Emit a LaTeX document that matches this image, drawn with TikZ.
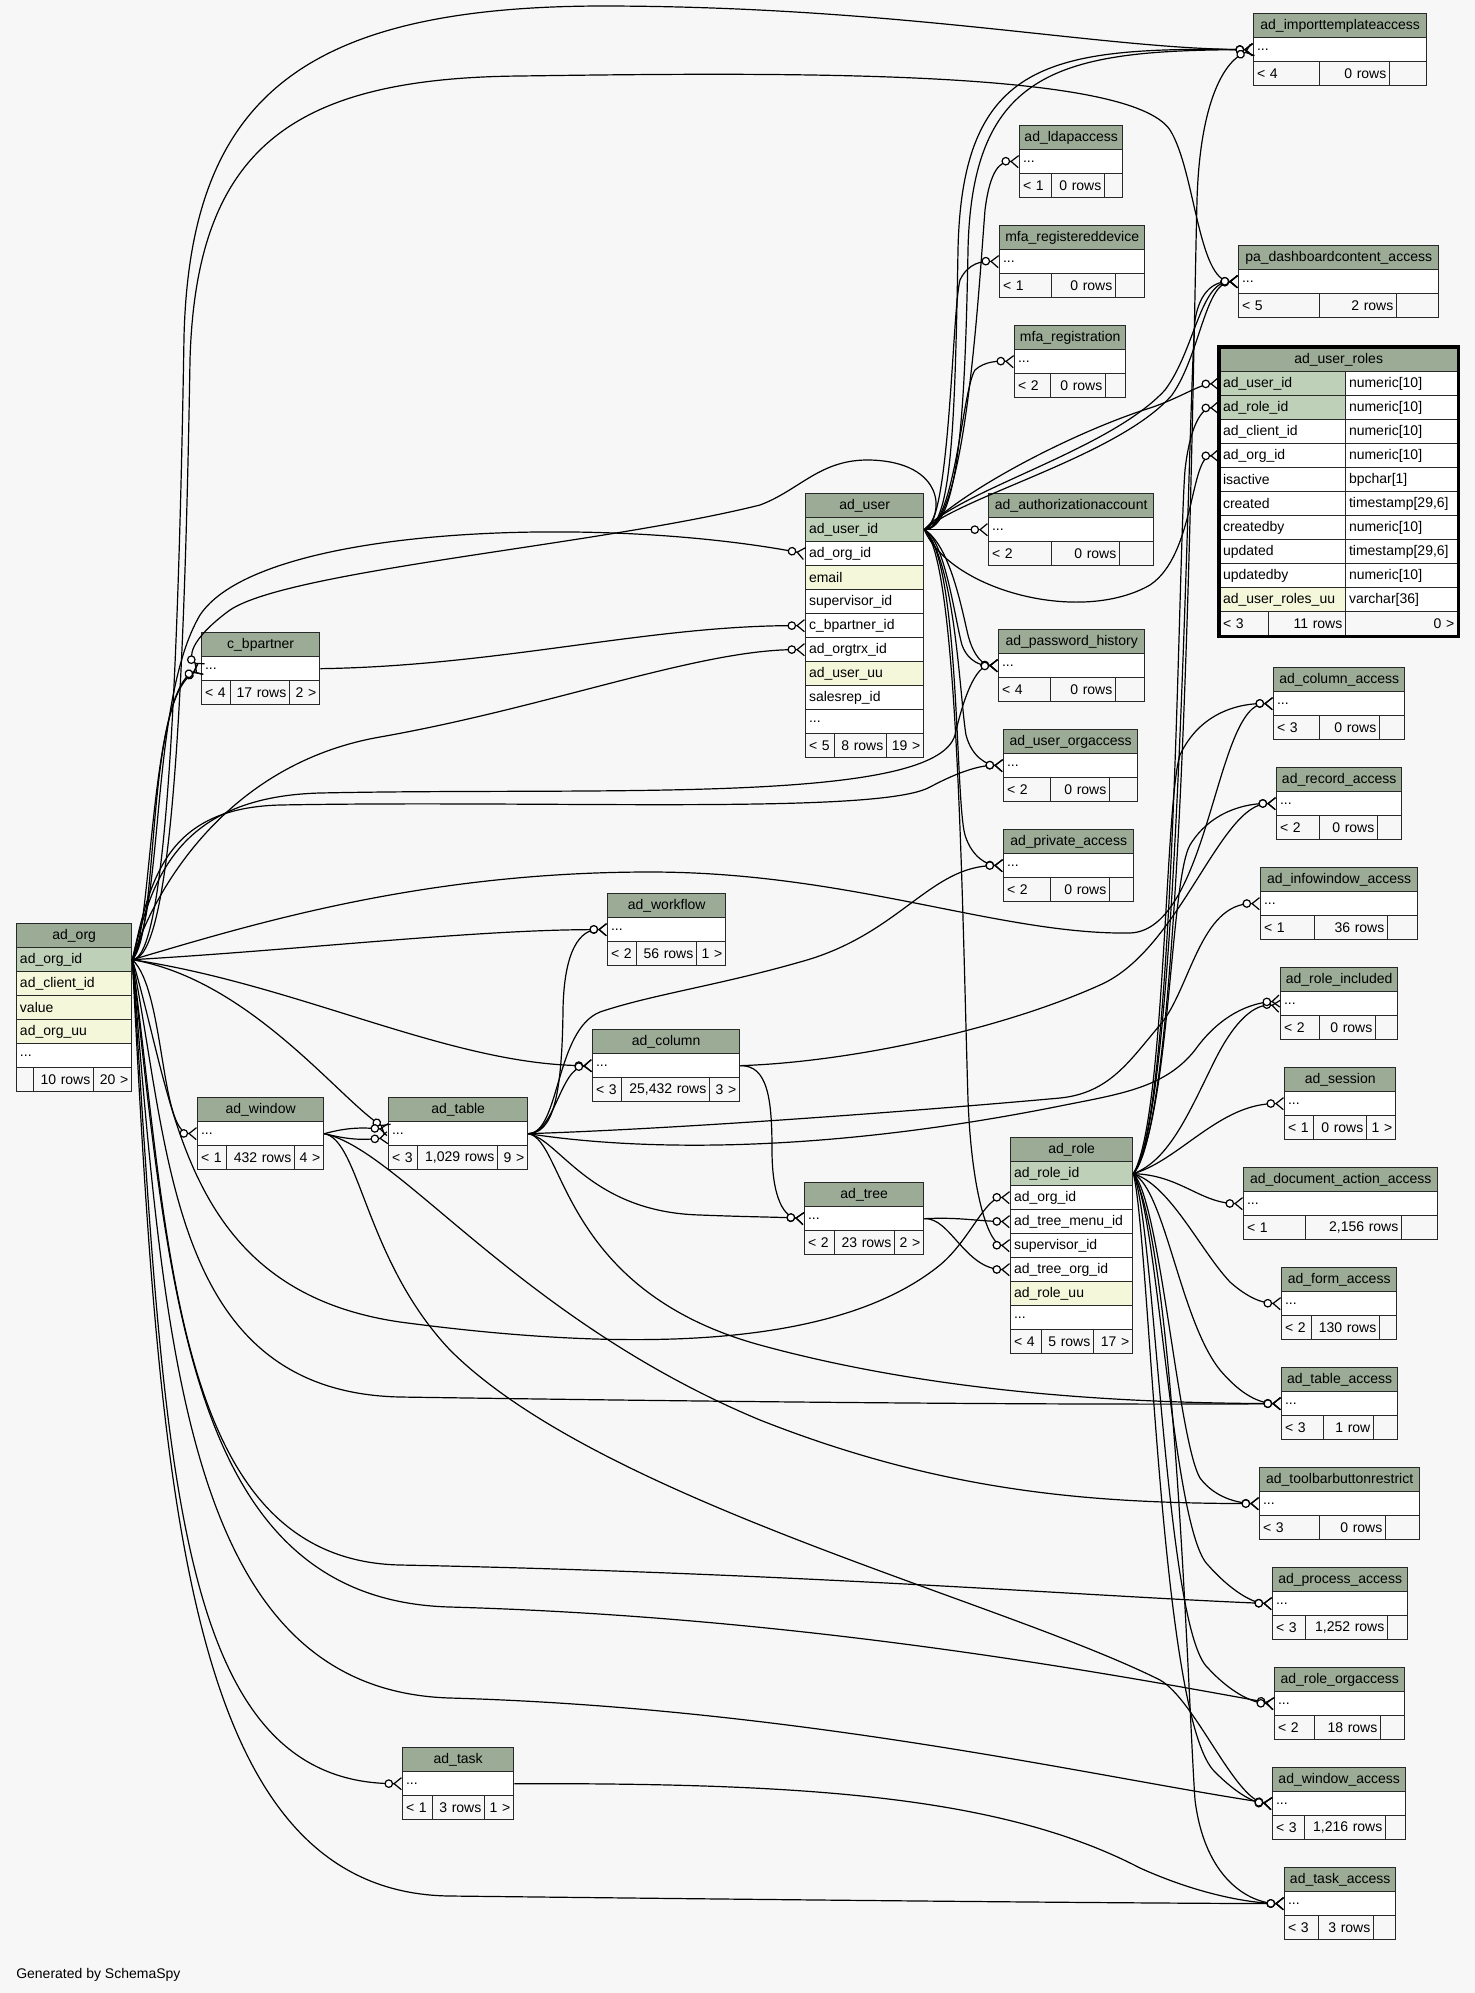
\documentclass[tikz,border=0pt]{standalone}
\usepackage{fontspec}
\setmainfont{Liberation Sans}
\usepackage{tikz}
\usetikzlibrary{arrows.meta}
\definecolor{ink}{RGB}{40,40,40}
\definecolor{canvas}{RGB}{247,247,247}
\definecolor{head}{RGB}{155,171,150}
\definecolor{pk}{RGB}{190,209,184}
\definecolor{idx}{RGB}{244,247,218}
\newcommand{\tabfont}{\fontsize{10.5}{12}\selectfont}
\newcommand{\rowdots}{...}
\tikzset{
  tabhd/.style={draw=ink,line width=1pt,fill=head,anchor=north west,
    minimum height=18pt,inner sep=0pt,font=\tabfont},
  tabcell/.style={draw=ink,line width=1pt,anchor=north west,
    minimum height=18pt,inner xsep=2.5pt,inner ysep=0pt,font=\tabfont},
  fk/.style={line width=0.9pt,
    -{Circle[fill=white,length=6.5pt] Straight Barb[reversed,length=5.5pt,width=9pt]}},
}
% one cell: name, x left, x right, y top, fill, align, text
\newcommand{\cell}[7]{%
  \pgfmathsetmacro\tabw{(#3-#2)*0.75}%
  \pgfmathsetmacro\tabt{(#3-#2)*0.75-5}%
  \node[tabcell,fill=#5,align=#6,minimum width=\tabw pt,text width=\tabt pt]
    (#1) at (#2,#4) {#7};}
% header and rows: name, x left, x right, y top, title, {key/fill/text,...}
\newcommand{\tbl}[6]{%
  \pgfmathsetmacro\tabw{(#3-#2)*0.75}%
  \node[tabhd,minimum width=\tabw pt] (#1) at (#2,#4) {#5};
  \foreach \rk/\rf/\rt [count=\i] in {#6}
    {\cell{#1-\rk}{#2}{#3}{#4+24*\i}{\rf}{left}{\rt}}}
% footer: name, x left, divider, divider, x right, y top, texts
\newcommand{\tfoot}[9]{%
  \cell{#1-f1}{#2}{#3}{#6}{canvas}{left}{#7}%
  \cell{#1-f2}{#3}{#4}{#6}{canvas}{right}{#8}%
  \cell{#1-f3}{#4}{#5}{#6}{canvas}{right}{#9}}

\begin{document}
\begin{tikzpicture}[x=0.75pt,y=-0.75pt]
  \useasboundingbox (0,0) rectangle (1475,1993);
  \fill[canvas] (0,0) rectangle (1475,1993);

  \tbl{org}{16}{131}{923}{ad\_org}{id/pk/ad\_org\_id, client/idx/ad\_client\_id,
    value/idx/value, uu/idx/ad\_org\_uu, more/white/\rowdots}
  \tfoot{org}{16}{33}{93}{131}{1067}{}{10 rows}{20 >}
  \tbl{cbp}{201}{319}{632}{c\_bpartner}{more/white/\rowdots}
  \tfoot{cbp}{201}{230}{289}{319}{680}{< 4}{17 rows}{2 >}
  \tbl{user}{805}{923}{493}{ad\_user}{id/pk/ad\_user\_id, org/white/ad\_org\_id,
    email/idx/email, sup/white/supervisor\_id, bp/white/c\_bpartner\_id,
    trx/white/ad\_orgtrx\_id, uu/idx/ad\_user\_uu, rep/white/salesrep\_id,
    more/white/\rowdots}
  \tfoot{user}{805}{834}{886}{923}{733}{< 5}{8 rows}{19 >}
  \tbl{wf}{607}{725}{893}{ad\_workflow}{more/white/\rowdots}
  \tfoot{wf}{607}{636}{696}{725}{941}{< 2}{56 rows}{1 >}
  \tbl{col}{592}{739}{1029}{ad\_column}{more/white/\rowdots}
  \tfoot{col}{592}{621}{709}{739}{1077}{< 3}{25,432 rows}{3 >}
  \tbl{win}{197}{323}{1097}{ad\_window}{more/white/\rowdots}
  \tfoot{win}{197}{226}{294}{323}{1145}{< 1}{432 rows}{4 >}
  \tbl{tab}{388}{527}{1097}{ad\_table}{more/white/\rowdots}
  \tfoot{tab}{388}{417}{497}{527}{1145}{< 3}{1,029 rows}{9 >}
  \tbl{tree}{804}{923}{1182}{ad\_tree}{more/white/\rowdots}
  \tfoot{tree}{804}{834}{894}{923}{1230}{< 2}{23 rows}{2 >}
  \tbl{role}{1010}{1132}{1137}{ad\_role}{id/pk/ad\_role\_id, org/white/ad\_org\_id,
    menu/white/ad\_tree\_menu\_id, sup/white/supervisor\_id,
    torg/white/ad\_tree\_org\_id, uu/idx/ad\_role\_uu, more/white/\rowdots}
  \tfoot{role}{1010}{1041}{1093}{1132}{1329}{< 4}{5 rows}{17 >}
  \tbl{task}{402}{513}{1747}{ad\_task}{more/white/\rowdots}
  \tfoot{task}{402}{432}{484}{513}{1795}{< 1}{3 rows}{1 >}

  \tbl{ita}{1253}{1426}{13}{ad\_importtemplateaccess}{more/white/\rowdots}
  \tfoot{ita}{1253}{1319}{1389}{1426}{61}{< 4}{0 rows}{}
  \tbl{ldap}{1019}{1122}{125}{ad\_ldapaccess}{more/white/\rowdots}
  \tfoot{ldap}{1019}{1051}{1104}{1122}{173}{< 1}{0 rows}{}
  \tbl{mfad}{999}{1144}{225}{mfa\_registereddevice}{more/white/\rowdots}
  \tfoot{mfad}{999}{1051}{1115}{1144}{273}{< 1}{0 rows}{}
  \tbl{mfar}{1014}{1125}{325}{mfa\_registration}{more/white/\rowdots}
  \tfoot{mfar}{1014}{1050}{1105}{1125}{373}{< 2}{0 rows}{}
  \tbl{pad}{1238}{1438}{245}{pa\_dashboardcontent\_access}{more/white/\rowdots}
  \tfoot{pad}{1238}{1319}{1396}{1438}{293}{< 5}{2 rows}{}
  \tbl{auth}{988}{1153}{493}{ad\_authorizationaccount}{more/white/\rowdots}
  \tfoot{auth}{988}{1051}{1119}{1153}{541}{< 2}{0 rows}{}
  \tbl{pwh}{998}{1144}{629}{ad\_password\_history}{more/white/\rowdots}
  \tfoot{pwh}{998}{1050}{1115}{1144}{677}{< 4}{0 rows}{}
  \tbl{uoa}{1003}{1137}{729}{ad\_user\_orgaccess}{more/white/\rowdots}
  \tfoot{uoa}{1003}{1050}{1109}{1137}{777}{< 2}{0 rows}{}
  \tbl{pva}{1003}{1133}{829}{ad\_private\_access}{more/white/\rowdots}
  \tfoot{pva}{1003}{1050}{1109}{1133}{877}{< 2}{0 rows}{}

  \node[tabhd,minimum width=178.5pt] (ur) at (1219,347) {ad\_user\_roles};
  \foreach \rk/\rf/\rn/\rty [count=\i] in {uid/pk/ad\_user\_id/numeric[10],
      rid/pk/ad\_role\_id/numeric[10], client/white/ad\_client\_id/numeric[10],
      org/white/ad\_org\_id/numeric[10], active/white/isactive/bpchar[1],
      created/white/created/{timestamp[29,6]}, cby/white/createdby/numeric[10],
      updated/white/updated/{timestamp[29,6]}, uby/white/updatedby/numeric[10],
      uu/idx/ad\_user\_roles\_uu/varchar[36]}
    {\cell{ur-\rk}{1219}{1345}{347+24*\i}{\rf}{left}{\rn}
     \cell{ur-\rk-t}{1345}{1457}{347+24*\i}{white}{left}{\rty}}
  \tfoot{ur}{1219}{1268}{1345}{1457}{611}{< 3}{11 rows}{0 >}
  \draw[line width=2.6pt] (ur.north west) rectangle (ur-f3.south east);

  \tbl{colacc}{1273}{1404}{667}{ad\_column\_access}{more/white/\rowdots}
  \tfoot{colacc}{1273}{1319}{1379}{1404}{715}{< 3}{0 rows}{}
  \tbl{recacc}{1276}{1401}{767}{ad\_record\_access}{more/white/\rowdots}
  \tfoot{recacc}{1276}{1319}{1377}{1401}{815}{< 2}{0 rows}{}
  \tbl{iwacc}{1260}{1417}{867}{ad\_infowindow\_access}{more/white/\rowdots}
  \tfoot{iwacc}{1260}{1314}{1387}{1417}{915}{< 1}{36 rows}{}
  \tbl{rinc}{1280}{1397}{967}{ad\_role\_included}{more/white/\rowdots}
  \tfoot{rinc}{1280}{1319}{1375}{1397}{1015}{< 2}{0 rows}{}
  \tbl{sess}{1284}{1395}{1067}{ad\_session}{more/white/\rowdots}
  \tfoot{sess}{1284}{1313}{1366}{1395}{1115}{< 1}{0 rows}{1 >}
  \tbl{docacc}{1243}{1437}{1167}{ad\_document\_action\_access}{more/white/\rowdots}
  \tfoot{docacc}{1243}{1305}{1401}{1437}{1215}{< 1}{2,156 rows}{}
  \tbl{formacc}{1281}{1396}{1267}{ad\_form\_access}{more/white/\rowdots}
  \tfoot{formacc}{1281}{1311}{1379}{1396}{1315}{< 2}{130 rows}{}
  \tbl{tabacc}{1281}{1397}{1367}{ad\_table\_access}{more/white/\rowdots}
  \tfoot{tabacc}{1281}{1323}{1373}{1397}{1415}{< 3}{1 row}{}
  \tbl{tbr}{1259}{1419}{1467}{ad\_toolbarbuttonrestrict}{more/white/\rowdots}
  \tfoot{tbr}{1259}{1319}{1385}{1419}{1515}{< 3}{0 rows}{}
  \tbl{procacc}{1272}{1407}{1567}{ad\_process\_access}{more/white/\rowdots}
  \tfoot{procacc}{1272}{1305}{1387}{1407}{1615}{< 3}{1,252 rows}{}
  \tbl{roa}{1274}{1404}{1667}{ad\_role\_orgaccess}{more/white/\rowdots}
  \tfoot{roa}{1274}{1314}{1380}{1404}{1715}{< 2}{18 rows}{}
  \tbl{winacc}{1272}{1405}{1767}{ad\_window\_access}{more/white/\rowdots}
  \tfoot{winacc}{1272}{1304}{1385}{1405}{1815}{< 3}{1,216 rows}{}
  \tbl{taskacc}{1284}{1395}{1867}{ad\_task\_access}{more/white/\rowdots}
  \tfoot{taskacc}{1284}{1318}{1373}{1395}{1915}{< 3}{3 rows}{}

  % ad_org
  \draw[fk] (org-id.east) .. controls (165,959) and (178,700) .. (184,337)
    .. controls (190,100) and (300,7) .. (600,6)
    .. controls (900,6) and (1100,49) .. (ita-more.west);
  \draw[fk] (org-id.east) .. controls (170,959) and (184,720) .. (190,360)
    .. controls (196,150) and (290,78) .. (520,76)
    .. controls (800,72) and (1130,70) .. (1170,130)
    .. controls (1195,170) and (1198,281) .. (pad-more.west);
  \draw[fk] (org-id.east) .. controls (160,930) and (145,700) .. (cbp-more.west);
  \draw[fk] (org-id.east) .. controls (152,935) and (150,690) .. (cbp-more.west);
  \draw[fk] (org-id.east) .. controls (165,900) and (150,700) .. (200,615)
    .. controls (260,525) and (600,515) .. (user-org.west);
  \draw[fk] (org-id.east) .. controls (150,900) and (220,765) .. (380,737)
    .. controls (550,707) and (700,649) .. (user-trx.west);
  \draw[fk] (org-id.east) .. controls (150,880) and (165,808) .. (280,805)
    .. controls (550,800) and (880,815) .. (930,787)
    .. controls (962,770) and (982,765) .. (uoa-more.west);
  \draw[fk] (org-id.east) .. controls (150,890) and (170,797) .. (320,793)
    .. controls (600,787) and (935,805) .. (955,735)
    .. controls (963,700) and (975,665) .. (pwh-more.west);
  \draw[fk] (org-id.east) .. controls (300,950) and (480,929) .. (wf-more.west);
  \draw[fk] (org-id.east) .. controls (250,925) and (420,872) .. (650,872)
    .. controls (850,872) and (1000,935) .. (1130,933)
    .. controls (1210,930) and (1215,703) .. (colacc-more.west);
  \draw[fk] (org-id.east) .. controls (300,985) and (450,1065) .. (col-more.west);
  \draw[fk] (org-id.east) .. controls (250,980) and (340,1100) .. ([yshift=3pt]tab-more.west);
  \draw[fk] (org-id.east) .. controls (165,990) and (160,1133) .. (win-more.west);
  \draw[fk] (org-id.east) .. controls (175,1100) and (180,1290) .. (400,1322)
    .. controls (700,1362) and (860,1330) .. (940,1265)
    .. controls (970,1240) and (985,1197) .. (role-org.west);
  \draw[fk] (org-id.east) .. controls (170,1150) and (170,1392) .. (400,1397)
    .. controls (800,1403) and (1100,1405) .. (tabacc-more.west);
  \draw[fk] (org-id.east) .. controls (170,1250) and (175,1560) .. (400,1565)
    .. controls (800,1573) and (1100,1597) .. (procacc-more.west);
  \draw[fk] (org-id.east) .. controls (170,1300) and (190,1600) .. (450,1607)
    .. controls (800,1617) and (1100,1672) .. (roa-more.west);
  \draw[fk] (org-id.east) .. controls (165,1350) and (185,1690) .. (450,1698)
    .. controls (800,1708) and (1100,1778) .. (winacc-more.west);
  \draw[fk] (org-id.east) .. controls (165,1450) and (170,1783) .. (task-more.west);
  \draw[fk] (org-id.east) .. controls (160,1500) and (185,1893) .. (450,1896)
    .. controls (800,1900) and (1100,1903) .. (taskacc-more.west);

  % ad_user
  \draw[fk] (user-id.east) .. controls (965,529) and (978,300) .. (985,210)
    .. controls (990,170) and (1000,161) .. (ldap-more.west);
  \draw[fk] (user-id.east) .. controls (950,529) and (952,310) .. (960,280)
    .. controls (968,263) and (982,261) .. (mfad-more.west);
  \draw[fk] (user-id.east) .. controls (955,529) and (962,390) .. (975,370)
    .. controls (985,361) and (998,361) .. (mfar-more.west);
  \draw[fk] (user-id.east) .. controls (952,529) and (955,420) .. (958,250)
    .. controls (962,60) and (1050,47) .. (ita-more.west);
  \draw[fk] (user-id.east) .. controls (958,529) and (965,420) .. (968,250)
    .. controls (972,70) and (1060,50) .. (ita-more.west);
  \draw[fk] (user-id.east) .. controls (960,490) and (1110,450) .. (1165,390)
    .. controls (1195,350) and (1200,281) .. (pad-more.west);
  \draw[fk] (user-id.east) .. controls (965,495) and (1120,455) .. (1172,395)
    .. controls (1200,355) and (1205,283) .. (pad-more.west);
  \draw[fk] (user-id.east) .. controls (970,485) and (1080,430) .. (1150,408)
    .. controls (1180,398) and (1200,384) .. (ur-uid.west);
  \draw[fk] (user-id.east) .. controls (950,590) and (1080,625) .. (1150,585)
    .. controls (1195,555) and (1190,456) .. (ur-org.west);
  \draw[fk] (user-id.east) -- (auth-more.west);
  \draw[fk] (user-id.east) .. controls (950,545) and (962,610) .. (968,635)
    .. controls (974,658) and (984,665) .. (pwh-more.west);
  \draw[fk] (user-id.east) .. controls (945,540) and (955,620) .. (962,645)
    .. controls (968,662) and (982,666) .. (pwh-more.west);
  \draw[fk] (user-id.east) .. controls (955,560) and (960,700) .. (966,735)
    .. controls (972,758) and (988,765) .. (uoa-more.west);
  \draw[fk] (user-id.east) .. controls (960,560) and (955,800) .. (965,835)
    .. controls (972,858) and (988,865) .. (pva-more.west);
  \draw[fk] (user-id.east) .. controls (958,560) and (962,900) .. (968,1100)
    .. controls (972,1200) and (990,1245) .. (role-sup.west);
  \draw[fk] (user-id.east) .. controls (945,515) and (945,462) .. (870,460)
    .. controls (820,459) and (800,490) .. (760,505)
    .. controls (600,545) and (290,570) .. (230,610)
    .. controls (205,628) and (183,652) .. (cbp-more.west);

  % ad_role
  \draw[fk] (role-id.east) .. controls (1185,1120) and (1192,400) .. (1197,200)
    .. controls (1200,100) and (1225,60) .. (ita-more.west);
  \draw[fk] (role-id.east) .. controls (1180,1120) and (1188,400) .. (1195,320)
    .. controls (1200,290) and (1215,281) .. (pad-more.west);
  \draw[fk] (role-id.east) .. controls (1175,1120) and (1178,560) .. (1185,470)
    .. controls (1190,425) and (1202,408) .. (ur-rid.west);
  \draw[fk] (role-id.east) .. controls (1165,1120) and (1165,800) .. (1180,755)
    .. controls (1200,712) and (1240,703) .. (colacc-more.west);
  \draw[fk] (role-id.east) .. controls (1170,1120) and (1170,880) .. (1190,845)
    .. controls (1210,812) and (1245,803) .. (recacc-more.west);
  \draw[fk] (role-id.east) .. controls (1170,1160) and (1190,1110) .. (1215,1060)
    .. controls (1235,1020) and (1255,1003) .. ([yshift=-2pt]rinc-more.west);
  \draw[fk] (role-id.east) .. controls (1180,1160) and (1220,1103) .. (sess-more.west);
  \draw[fk] (role-id.east) .. controls (1180,1175) and (1200,1203) .. (docacc-more.west);
  \draw[fk] (role-id.east) .. controls (1170,1185) and (1200,1250) .. (1230,1282)
    .. controls (1248,1298) and (1262,1303) .. (formacc-more.west);
  \draw[fk] (role-id.east) .. controls (1165,1190) and (1180,1320) .. (1220,1370)
    .. controls (1242,1396) and (1260,1403) .. (tabacc-more.west);
  \draw[fk] (role-id.east) .. controls (1160,1200) and (1178,1440) .. (1200,1478)
    .. controls (1215,1498) and (1238,1503) .. (tbr-more.west);
  \draw[fk] (role-id.east) .. controls (1158,1210) and (1172,1530) .. (1208,1565)
    .. controls (1230,1590) and (1252,1603) .. (procacc-more.west);
  \draw[fk] (role-id.east) .. controls (1155,1220) and (1165,1630) .. (1208,1668)
    .. controls (1230,1692) and (1252,1703) .. (roa-more.west);
  \draw[fk] (role-id.east) .. controls (1150,1240) and (1160,1720) .. (1215,1772)
    .. controls (1238,1795) and (1255,1803) .. (winacc-more.west);
  \draw[fk] (role-id.east) .. controls (1175,1250) and (1188,1700) .. (1195,1800)
    .. controls (1205,1880) and (1250,1903) .. (taskacc-more.west);

  % ad_table, ad_column, ad_window, ad_tree, ad_task, c_bpartner
  \draw[fk] (tab-more.east) .. controls (552,1133) and (562,1100) .. (563,1010)
    .. controls (564,950) and (580,929) .. (wf-more.west);
  \draw[fk] (tab-more.east) .. controls (555,1133) and (560,1068) .. (col-more.west);
  \draw[fk] (tab-more.east) .. controls (560,1140) and (590,1212) .. (700,1215)
    .. controls (750,1217) and (780,1217) .. (tree-more.west);
  \draw[fk] (tab-more.east) .. controls (560,1133) and (555,1030) .. (600,1012)
    .. controls (650,995) and (720,985) .. (800,962)
    .. controls (900,935) and (930,865) .. (pva-more.west);
  \draw[fk] (tab-more.east) .. controls (700,1128) and (950,1108) .. (1060,1098)
    .. controls (1110,1093) and (1130,1060) .. (1160,1025)
    .. controls (1190,990) and (1200,903) .. (iwacc-more.west);
  \draw[fk] (tab-more.east) .. controls (620,1148) and (800,1158) .. (1060,1106)
    .. controls (1120,1094) and (1165,1088) .. (1195,1050)
    .. controls (1220,1015) and (1250,1003) .. ([yshift=2pt]rinc-more.west);
  \draw[fk] (tab-more.east) .. controls (565,1140) and (560,1290) .. (760,1345)
    .. controls (950,1397) and (1150,1403) .. (tabacc-more.west);
  \draw[fk] (col-more.east) .. controls (768,1065) and (772,1100) .. (772,1150)
    .. controls (772,1200) and (785,1217) .. (tree-more.west);
  \draw[fk] (col-more.east) .. controls (850,1062) and (1000,1030) .. (1100,985)
    .. controls (1180,950) and (1220,803) .. (recacc-more.west);
  \draw[fk] (win-more.east) .. controls (345,1128) and (360,1127) .. ([yshift=3pt]tab-more.west);
  \draw[fk] (win-more.east) .. controls (350,1140) and (362,1140) .. ([yshift=-3pt]tab-more.west);
  \draw[fk] (win-more.east) .. controls (400,1150) and (520,1320) .. (760,1420)
    .. controls (950,1495) and (1100,1503) .. (tbr-more.west);
  \draw[fk] (win-more.east) .. controls (360,1140) and (365,1260) .. (450,1350)
    .. controls (600,1500) and (1000,1600) .. (1160,1680)
    .. controls (1195,1700) and (1235,1800) .. (winacc-more.west);
  \draw[fk] (tree-more.east) .. controls (960,1217) and (975,1221) .. (role-menu.west);
  \draw[fk] (tree-more.east) .. controls (950,1217) and (965,1269) .. (role-torg.west);
  \draw[fk] (task-more.east) .. controls (800,1783) and (1000,1795) .. (1140,1868)
    .. controls (1200,1895) and (1250,1903) .. (taskacc-more.west);
  \draw[fk] (cbp-more.east) .. controls (500,666) and (650,625) .. (user-bp.west);

  \node[anchor=base west,font=\tabfont,inner sep=0pt] (credit) at (16,1978)
    {Generated by SchemaSpy};
\end{tikzpicture}
\end{document}
